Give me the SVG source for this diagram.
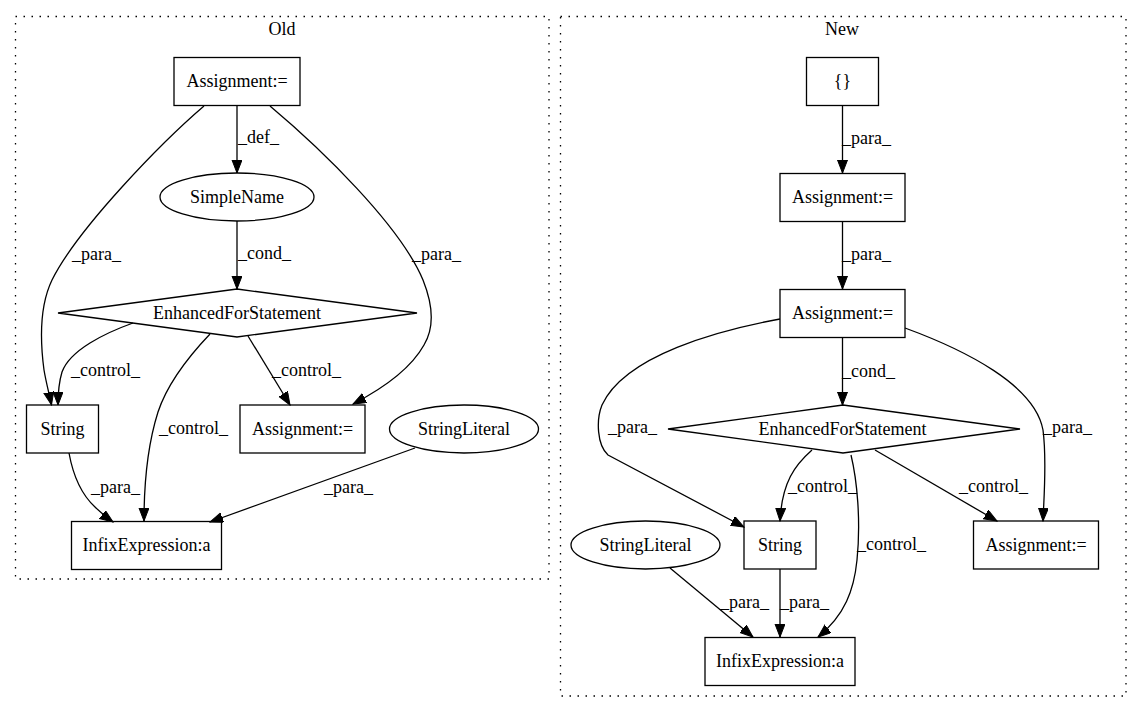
<svg xmlns="http://www.w3.org/2000/svg" width="1141" height="712" viewBox="0 0 1141 712">
<defs>
<marker id="arr" markerUnits="userSpaceOnUse" markerWidth="14" markerHeight="11" refX="13" refY="5" orient="auto">
<path d="M0,0 L13,5 L0,10 Z" fill="#000" stroke="#000" stroke-width="1"/>
</marker>
<style>
text{font-family:"Liberation Serif","Times New Roman",serif;font-size:18px;fill:#000}
.n rect,.n ellipse,.n polygon{fill:none;stroke:#000;stroke-width:1.3}
.n text{text-anchor:middle}
.e path{fill:none;stroke:#000;stroke-width:1.3;marker-end:url(#arr)}
.cl{fill:none;stroke:#000;stroke-width:1.3;stroke-dasharray:1.5,6.5}
.ct{text-anchor:middle}
</style>
</defs>
<rect width="1141" height="712" fill="#fff"/>
<g id="cluster_old">
<rect class="cl" x="15.5" y="16.5" width="533.5" height="562.5"/>
<text class="ct" x="282" y="35">Old</text>
</g>
<g id="cluster_new">
<rect class="cl" x="560.5" y="16.5" width="565.5" height="679.5"/>
<text class="ct" x="842" y="35">New</text>
</g>
<g id="edges" class="e">
<path d="M237,105.5 L237,173"/>
<path d="M237,221 L237,289"/>
<path d="M204,106 C162,142 78,228 52,280 C40,305 40,340 44,370 C46,382 49,393 51.5,405"/>
<path d="M133,323 C105,333 70,350 62,372 C59,382 58,393 58,405"/>
<path d="M248,336 L290,405"/>
<path d="M210,334 C190,355 168,382 158,412 C146,450 144,490 144,521"/>
<path d="M270,106 C320,148 400,225 423,280 C435,310 433,330 424,345 C410,370 380,390 353,404"/>
<path d="M69,453 C73,475 82,495 95,507 C100,512 106,517 113,522"/>
<path d="M415,448 L210,522"/>
<path d="M842.5,105.5 L842.5,173"/>
<path d="M842.5,221 L842.5,289"/>
<path d="M842.5,337 L842.5,405"/>
<path d="M780,319 C720,330 625,355 602,405 C596,420 597,445 608,455 L744,527"/>
<path d="M905,328 C965,350 1035,385 1043,430 C1047,460 1044,495 1043,521"/>
<path d="M812,450 C795,465 782,482 780,521"/>
<path d="M875,450 L997,521"/>
<path d="M851,455 C857,480 861,520 857,560 C854,590 845,615 818,637"/>
<path d="M780,569 L780,637"/>
<path d="M670,568 L753,637"/>
</g>
<g id="edge_labels">
<text x="238" y="143">_def_</text>
<text x="238" y="259">_cond_</text>
<text x="72" y="260">_para_</text>
<text x="412" y="260">_para_</text>
<text x="71" y="376">_control_</text>
<text x="272" y="376">_control_</text>
<text x="159" y="434">_control_</text>
<text x="91" y="493">_para_</text>
<text x="324" y="493">_para_</text>
<text x="842" y="144">_para_</text>
<text x="842" y="260">_para_</text>
<text x="842" y="377">_cond_</text>
<text x="608" y="433">_para_</text>
<text x="1043" y="433">_para_</text>
<text x="788" y="492">_control_</text>
<text x="959" y="492">_control_</text>
<text x="857" y="550">_control_</text>
<text x="780" y="608">_para_</text>
<text x="720" y="608">_para_</text>
</g>
<g id="old_assign_top" class="n"><rect x="174" y="57.5" width="126" height="48"/><text x="237" y="87">Assignment:=</text></g>
<g id="old_simplename" class="n"><ellipse cx="237" cy="197" rx="77" ry="24"/><text x="237" y="203">SimpleName</text></g>
<g id="old_for" class="n"><polygon points="237,289 417,313 237,337 58,313"/><text x="237" y="319">EnhancedForStatement</text></g>
<g id="old_string" class="n"><rect x="26.5" y="405" width="72" height="48"/><text x="62.5" y="435">String</text></g>
<g id="old_assign_bottom" class="n"><rect x="240" y="405" width="125" height="48"/><text x="302.5" y="435">Assignment:=</text></g>
<g id="old_stringliteral" class="n"><ellipse cx="464" cy="429" rx="74.5" ry="24"/><text x="464" y="435">StringLiteral</text></g>
<g id="old_infix" class="n"><rect x="71.5" y="521.5" width="150" height="48"/><text x="146.5" y="551">InfixExpression:a</text></g>
<g id="new_braces" class="n"><rect x="806.5" y="57.5" width="72" height="48"/><text x="842.5" y="87">{}</text></g>
<g id="new_assign_1" class="n"><rect x="780" y="173.5" width="125" height="48"/><text x="842.5" y="203">Assignment:=</text></g>
<g id="new_assign_2" class="n"><rect x="780" y="289.5" width="125" height="48"/><text x="842.5" y="319">Assignment:=</text></g>
<g id="new_for" class="n"><polygon points="843,405 1020,429 843,453 668,429"/><text x="842.5" y="435">EnhancedForStatement</text></g>
<g id="new_stringliteral" class="n"><ellipse cx="645.5" cy="545" rx="74.5" ry="24"/><text x="645.5" y="551">StringLiteral</text></g>
<g id="new_string" class="n"><rect x="744" y="521" width="72" height="48"/><text x="780" y="551">String</text></g>
<g id="new_assign_bottom" class="n"><rect x="973.5" y="521" width="125" height="48"/><text x="1036" y="551">Assignment:=</text></g>
<g id="new_infix" class="n"><rect x="705" y="637.5" width="150" height="48"/><text x="780" y="667">InfixExpression:a</text></g>
</svg>
